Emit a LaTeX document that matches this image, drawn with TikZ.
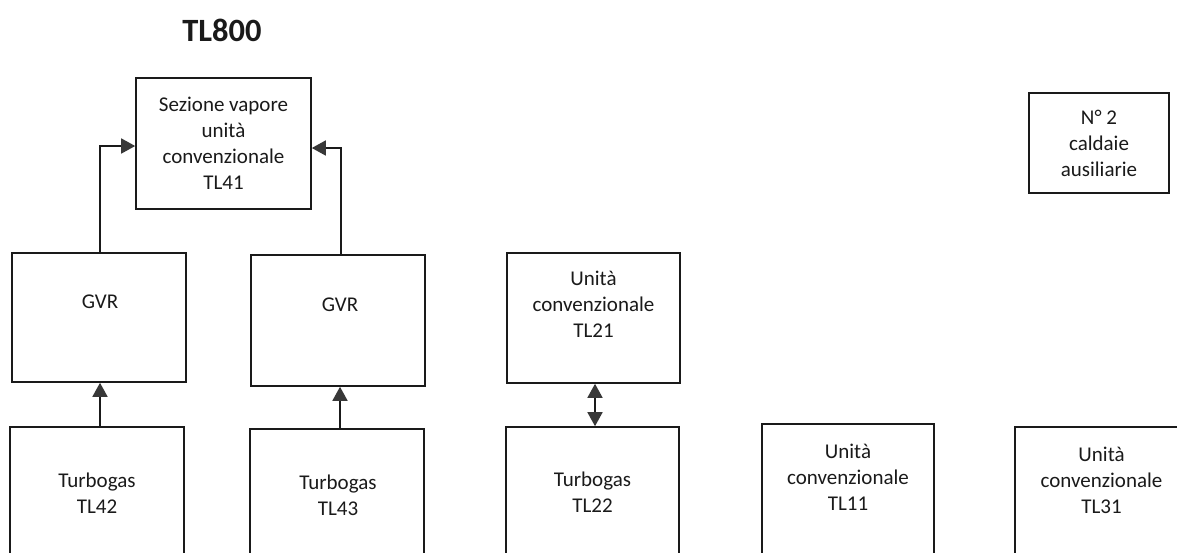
\documentclass[tikz,border=0pt]{standalone}
\usepackage{fontspec}
\setmainfont{Carlito}
\usetikzlibrary{arrows.meta,calc}
\definecolor{ink}{HTML}{1A1A1A}
\definecolor{headc}{HTML}{383838}
\tikzset{
  box/.style={draw=ink, line width=1.6pt, rectangle, inner sep=0pt},
  lbl/.style={font=\fontsize{21}{26}\selectfont, align=center, inner sep=0pt, text=ink},
  arr/.style={draw=ink, line width=1.6pt, -{Triangle[length=14pt,width=15pt,fill=headc,color=headc]}},
  darr/.style={draw=ink, line width=1.6pt, {Triangle[length=14pt,width=15pt,fill=headc,color=headc]}-{Triangle[length=14pt,width=15pt,fill=headc,color=headc]}}
}
\begin{document}
\begin{tikzpicture}[x=1pt,y=-1pt]
\useasboundingbox (0,0) rectangle (1177,552);
\fill[white] (0,0) rectangle (1177,552);
\node[font=\fontsize{32.5}{38}\selectfont\bfseries, text=ink, inner sep=0pt] (title) at (222,30) {TL800};

% boxes
\node[box, minimum width=175pt, minimum height=131pt] (sez) at (223.5,143.5) {};
\node[lbl] (sezt) at (sez.center) {Sezione vapore\\unità\\convenzionale\\TL41};

\node[box, minimum width=140pt, minimum height=100pt] (aux) at (1099,143) {};
\node[lbl] (auxt) at (aux.center) {N° 2\\caldaie\\ausiliarie};

\node[box, minimum width=174pt, minimum height=129pt] (gvr1) at (99,317.5) {};
\node[lbl] (gvr1t) at ($(gvr1.north)+(1,50)$) {GVR};

\node[box, minimum width=174pt, minimum height=131pt] (gvr2) at (338,320.5) {};
\node[lbl] (gvr2t) at ($(gvr2.north)+(2,51)$) {GVR};

\node[box, minimum width=173pt, minimum height=130pt] (tl21) at (593.5,318) {};
\node[lbl] (tl21t) at ($(tl21.north)+(0,52)$) {Unità\\convenzionale\\TL21};

\node[box, minimum width=174pt, minimum height=130pt] (tl42) at (97,492) {};
\node[lbl] (tl42t) at ($(tl42.center)+(0,1)$) {Turbogas\\TL42};

\node[box, minimum width=174pt, minimum height=130pt] (tl43) at (337,494) {};
\node[lbl] (tl43t) at ($(tl43.center)+(1,1)$) {Turbogas\\TL43};

\node[box, minimum width=173pt, minimum height=130pt] (tl22) at (592.5,492) {};
\node[lbl] (tl22t) at ($(tl22.center)+(0,0)$) {Turbogas\\TL22};

\node[box, minimum width=172pt, minimum height=130pt] (tl11) at (848,489) {};
\node[lbl] (tl11t) at ($(tl11.north)+(0,54)$) {Unità\\convenzionale\\TL11};

\node[box, minimum width=173pt, minimum height=130pt] (tl31) at (1101.5,492) {};
\node[lbl] (tl31t) at ($(tl31.north)+(0,54)$) {Unità\\convenzionale\\TL31};

% connectors
\draw[arr] ([xshift=1pt]gvr1.north) |- ([yshift=-2.5pt]sez.west);
\draw[arr] ([xshift=3pt]gvr2.north) |- ([yshift=-4.5pt]sez.east);
\draw[arr] (tl42.north -| gvr1t) -- (gvr1.south -| gvr1t);
\draw[arr] ([xshift=3pt]tl43.north) -- ([xshift=3pt]tl43.north |- gvr2.south);
\draw[darr] ([xshift=1.5pt]tl21.south) -- ([xshift=1.5pt]tl21.south |- tl22.north);
\end{tikzpicture}
\end{document}
